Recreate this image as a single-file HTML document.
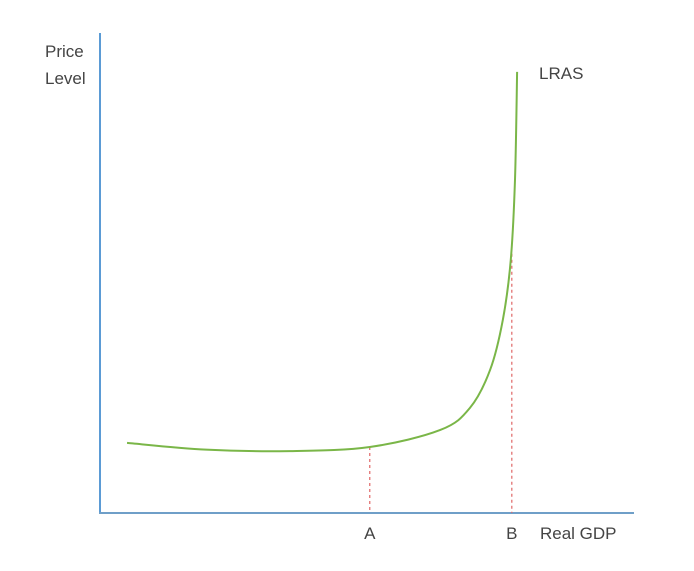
<!DOCTYPE html>
<html><head><meta charset="utf-8"><style>
html,body{margin:0;padding:0;background:#fff;}
svg{display:block;}
text{font-family:"Liberation Sans",sans-serif;fill:#444;font-size:17px;}
</style></head><body>
<svg id="chart" width="694" height="571">
<line x1="100" y1="33" x2="100" y2="514" stroke="#5b9bd5" stroke-width="2"/>
<line x1="99" y1="513" x2="634" y2="513" stroke="#6f9fc8" stroke-width="2"/>
<text x="45" y="57">Price</text>
<text x="45" y="84">Level</text>
<text x="539" y="79">LRAS</text>
<text x="540" y="539">Real GDP</text>
<g id="marks"></g>
</svg>
<script>
const gdp = [0.051, 0.2, 0.358, 0.509, 0.642, 0.698, 0.736, 0.760, 0.775, 0.783, 0.787];
const price = [0.146, 0.132, 0.129, 0.1375, 0.173, 0.219, 0.298, 0.402, 0.527, 0.694, 0.919];
const refLabels = ["A", "B"];
const refGdp = [0.509, 0.777];
const refPrice = [0.1375, 0.54];
const X0=100, X1=630, Y0=513, Y1=33;
function xs(v){return X0+v*(X1-X0);}
function ys(v){return Y0-v*(Y0-Y1);}
const g=document.getElementById('marks');
const NS='http://www.w3.org/2000/svg';
for(let i=0;i<refLabels.length;i++){
  const l=document.createElementNS(NS,'line');
  l.setAttribute('x1',xs(refGdp[i]));l.setAttribute('x2',xs(refGdp[i]));
  l.setAttribute('y1',ys(refPrice[i]));l.setAttribute('y2',Y0);
  l.setAttribute('stroke','#e06666');l.setAttribute('stroke-width','1.2');l.setAttribute('stroke-dasharray','3,3');
  
  
  g.appendChild(l);
  const t=document.createElementNS(NS,'text');
  t.setAttribute('x',xs(refGdp[i]));t.setAttribute('y',539);t.setAttribute('text-anchor','middle');
  t.textContent=refLabels[i];
  
  
  g.appendChild(t);
}
const P=gdp.map((v,i)=>[xs(v),ys(price[i])]);
let d='M'+P[0][0]+','+P[0][1];
for(let i=0;i<P.length-1;i++){
  const p0=P[Math.max(0,i-1)],p1=P[i],p2=P[i+1],p3=P[Math.min(P.length-1,i+2)];
  const c1=[p1[0]+(p2[0]-p0[0])/6,p1[1]+(p2[1]-p0[1])/6];
  const c2=[p2[0]-(p3[0]-p1[0])/6,p2[1]-(p3[1]-p1[1])/6];
  d+=` C${c1[0]},${c1[1]} ${c2[0]},${c2[1]} ${p2[0]},${p2[1]}`;
}
const path=document.createElementNS(NS,'path');
path.setAttribute('d',d);path.setAttribute('fill','none');path.setAttribute('stroke','#7ab648');path.setAttribute('stroke-width','2');


g.appendChild(path);
</script>
</body></html>
